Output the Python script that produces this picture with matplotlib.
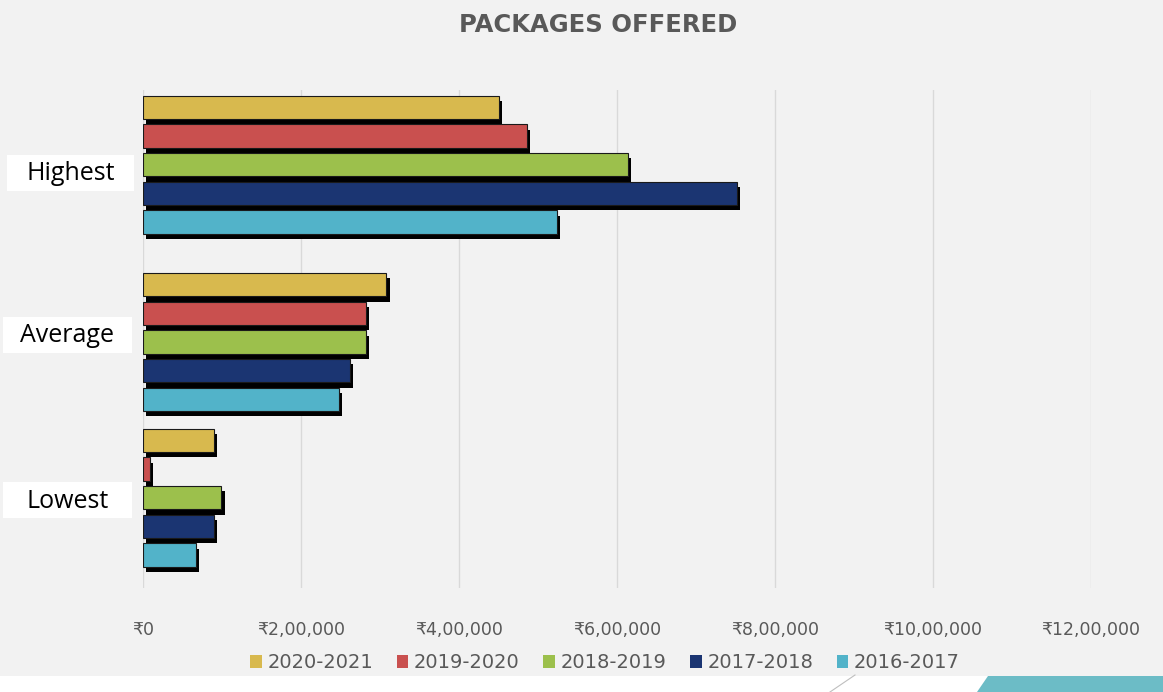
import matplotlib
matplotlib.use("Agg")
import matplotlib.pyplot as plt
import matplotlib.patheffects as pe
from matplotlib.patches import Polygon, Rectangle
from matplotlib.lines import Line2D
import numpy as np

categories = ["Highest", "Average", "Lowest"]
series = ["2020-2021", "2019-2020", "2018-2019", "2017-2018", "2016-2017"]
values = {
    "2020-2021": [450000, 308000, 90000],
    "2019-2020": [486000, 282000, 9000],
    "2018-2019": [614000, 282000, 99000],
    "2017-2018": [752000, 262000, 90000],
    "2016-2017": [524000, 248000, 67000],
}
colors = ["#D8B94E", "#C9504F", "#9CC04C", "#1B3572", "#52B3C9"]
xticks = [0, 200000, 400000, 600000, 800000, 1000000, 1200000]
xtick_labels = ["₹0", "₹2,00,000", "₹4,00,000", "₹6,00,000", "₹8,00,000", "₹10,00,000", "₹12,00,000"]

W, H = 1163, 692
fig = plt.figure(figsize=(W / 100, H / 100), dpi=100)
fig.patch.set_facecolor("#F2F2F2")

left_px, right_px, top_px, bot_px = 143, 1091, 90, 588
ax = fig.add_axes([left_px / W, 1 - bot_px / H, (right_px - left_px) / W, (bot_px - top_px) / H])
ax.set_facecolor("#F2F2F2")

# group centre positions (layout)
ypos = np.array([0.0, 1.065, 2.0])
slot = 0.172
bh = 0.14
for i, (s, c) in enumerate(zip(series, colors)):
    off = (i - 2) * slot - 0.012
    bars = ax.barh(ypos + off, values[s], height=bh, color=c, edgecolor="#1a1a1a",
                   linewidth=0.8, zorder=3, label=s)
    for b in bars:
        b.set_path_effects([pe.SimplePatchShadow(offset=(2.4, -3.8), shadow_rgbFace="black", alpha=1.0),
                            pe.Normal()])

ax.set_xlim(0, 1200000)
ax.set_ylim(2.53, -0.46)
ax.set_xticks(xticks)
ax.set_xticklabels(xtick_labels, fontsize=12.5, color="#595959", family="DejaVu Sans")
ax.tick_params(axis="x", length=0, pad=24)
ax.set_yticks([])
ax.grid(axis="x", color="#D9D9D9", linewidth=1, zorder=0)
for sp in ax.spines.values():
    sp.set_visible(False)

# category labels in white boxes (pixel boxes: x0, x1, y0, y1)
boxes = [(7, 134, 155, 191), (3, 132, 317, 353), (3, 132, 482, 518)]
for cat, (x0, x1, y0, y1) in zip(categories, boxes):
    fig.patches.append(Rectangle((x0 / W, 1 - y1 / H), (x1 - x0) / W, (y1 - y0) / H,
                                 transform=fig.transFigure, fc="white", ec="none", zorder=5))
    fig.text((x0 + x1) / 2 / W, 1 - ((y0 + y1) / 2 + 1) / H, cat, ha="center", va="center",
             fontsize=18, family="Open Sans", color="black", zorder=6)

fig.text(598 / W, 1 - 25 / H, "PACKAGES OFFERED", ha="center", va="center",
         fontsize=17.5, fontweight="bold", color="#595959")

handles = [Rectangle((0, 0), 1, 1, fc=c, ec="none") for c in colors]
leg = fig.legend(handles, series, loc="center", bbox_to_anchor=(605 / W, 1 - 663 / H),
                 ncol=5, frameon=False, fontsize=14, handlelength=0.6, handleheight=0.6,
                 handletextpad=0.3, columnspacing=1.2)
for t in leg.get_texts():
    t.set_color("#595959")

# bottom decoration
fig.patches.append(Rectangle((0, 0), 1, 16 / H, transform=fig.transFigure, fc="white", ec="none"))
fig.patches.append(Polygon([(977 / W, 0), (988 / W, 16 / H), (1, 16 / H), (1, 0)],
                           closed=True, transform=fig.transFigure, fc="#6CBCC6", ec="none"))
fig.lines.append(Line2D([830 / W, 855 / W], [0, 17 / H], transform=fig.transFigure,
                        color="#BFBFBF", linewidth=0.8))

fig.savefig("out.png", dpi=100, facecolor=fig.get_facecolor())
